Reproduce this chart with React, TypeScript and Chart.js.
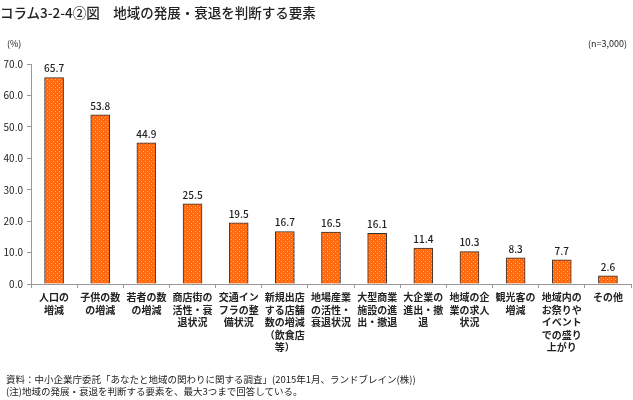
import React, { useEffect, useRef } from "react";
import { Chart, registerables } from "chart.js";

Chart.register(...registerables);

const categories: string[][] = [
  ["人口の", "増減"],
  ["子供の数", "の増減"],
  ["若者の数", "の増減"],
  ["商店街の", "活性・衰", "退状況"],
  ["交通イン", "フラの整", "備状況"],
  ["新規出店", "する店舗", "数の増減", "（飲食店", "等）"],
  ["地場産業", "の活性・", "衰退状況"],
  ["大型商業", "施設の進", "出・撤退"],
  ["大企業の", "進出・撤", "退"],
  ["地域の企", "業の求人", "状況"],
  ["観光客の", "増減"],
  ["地域内の", "お祭りや", "イベント", "での盛り", "上がり"],
  ["その他"],
];

const values: number[] = [65.7, 53.8, 44.9, 25.5, 19.5, 16.7, 16.5, 16.1, 11.4, 10.3, 8.3, 7.7, 2.6];

const yTicks: number[] = [0, 10, 20, 30, 40, 50, 60, 70];

const JP = '"Noto Sans CJK JP", "Noto Sans", sans-serif';

function makePattern(): CanvasPattern | string {
  const c = document.createElement("canvas");
  c.width = 4;
  c.height = 4;
  const ctx = c.getContext("2d");
  if (!ctx) return "#FF6600";
  ctx.fillStyle = "#FF6A10";
  ctx.fillRect(0, 0, 4, 4);
  ctx.fillStyle = "#FFB27A";
  ctx.fillRect(1, 1, 1, 1);
  ctx.fillRect(3, 3, 1, 1);
  const p = ctx.createPattern(c, "repeat");
  return p || "#FF6600";
}

const valueLabels = {
  id: "valueLabels",
  afterDatasetsDraw(chart: any) {
    const ctx = chart.ctx;
    const meta = chart.getDatasetMeta(0);
    ctx.save();
    ctx.font = `500 10px ${JP}`;
    ctx.fillStyle = "#222";
    ctx.textAlign = "center";
    ctx.textBaseline = "bottom";
    meta.data.forEach((el: any, i: number) => {
      ctx.fillText(values[i].toFixed(1), el.x, el.y - 4);
    });
    ctx.restore();
  },
};

export default function App() {
  const ref = useRef<HTMLCanvasElement | null>(null);

  useEffect(() => {
    if (!ref.current) return;
    const chart = new Chart(ref.current, {
      type: "bar",
      data: {
        labels: categories,
        datasets: [
          {
            data: values,
            backgroundColor: makePattern() as any,
            borderColor: "#333",
            borderWidth: 1,
            barThickness: 19,
          },
        ],
      },
      options: {
        animation: false,
        responsive: false,
        maintainAspectRatio: false,
        layout: { padding: { top: 64, right: 2, left: 0, bottom: 0 } },
        plugins: {
          legend: { display: false },
          tooltip: { enabled: false },
          title: { display: false },
        },
        scales: {
          x: {
            offset: true,
            grid: {
              offset: true,
              drawOnChartArea: false,
              tickLength: 4,
              color: "#999",
            },
            border: { color: "#999" },
            ticks: {
              autoSkip: false,
              maxRotation: 0,
              minRotation: 0,
              padding: 3,
              color: "#222",
              font: { family: JP, size: 10, weight: "bold", lineHeight: 1.25 },
            },
            afterFit(scale: any) {
              scale.height = 116;
            },
          },
          y: {
            min: 0,
            max: 70,
            afterBuildTicks(scale: any) {
              scale.ticks = yTicks.map((v) => ({ value: v }));
            },
            grid: {
              drawOnChartArea: false,
              tickLength: 4,
              color: "#999",
            },
            border: { color: "#999" },
            ticks: {
              padding: 4,
              color: "#222",
              font: { family: JP, size: 10 },
              callback: (v: any) => Number(v).toFixed(1),
            },
            afterFit(scale: any) {
              scale.width = 31;
            },
          },
        },
      },
      plugins: [valueLabels],
    });
    return () => chart.destroy();
  }, []);

  return (
    <div
      style={{
        position: "absolute",
        left: 0,
        top: 0,
        width: 633,
        height: 400,
        background: "#fff",
        fontFamily: JP,
        color: "#222",
      }}
    >
      <canvas ref={ref} width={633} height={400} style={{ position: "absolute", left: 0, top: 0 }} />
      <div style={{ position: "absolute", left: 0, top: 2, fontSize: 13.5, fontWeight: 500, whiteSpace: "nowrap" }}>
        コラム3-2-4②図　地域の発展・衰退を判断する要素
      </div>
      <div style={{ position: "absolute", left: 7, top: 37, fontSize: 9 }}>(%)</div>
      <div style={{ position: "absolute", right: 6, top: 37, fontSize: 9 }}>(n=3,000)</div>
      <div style={{ position: "absolute", left: 6, top: 373, fontSize: 9.5, lineHeight: "12px", whiteSpace: "nowrap" }}>
        資料：中小企業庁委託「あなたと地域の関わりに関する調査」(2015年1月、ランドブレイン(株))
        <br />
        (注)地域の発展・衰退を判断する要素を、最大3つまで回答している。
      </div>
    </div>
  );
}
